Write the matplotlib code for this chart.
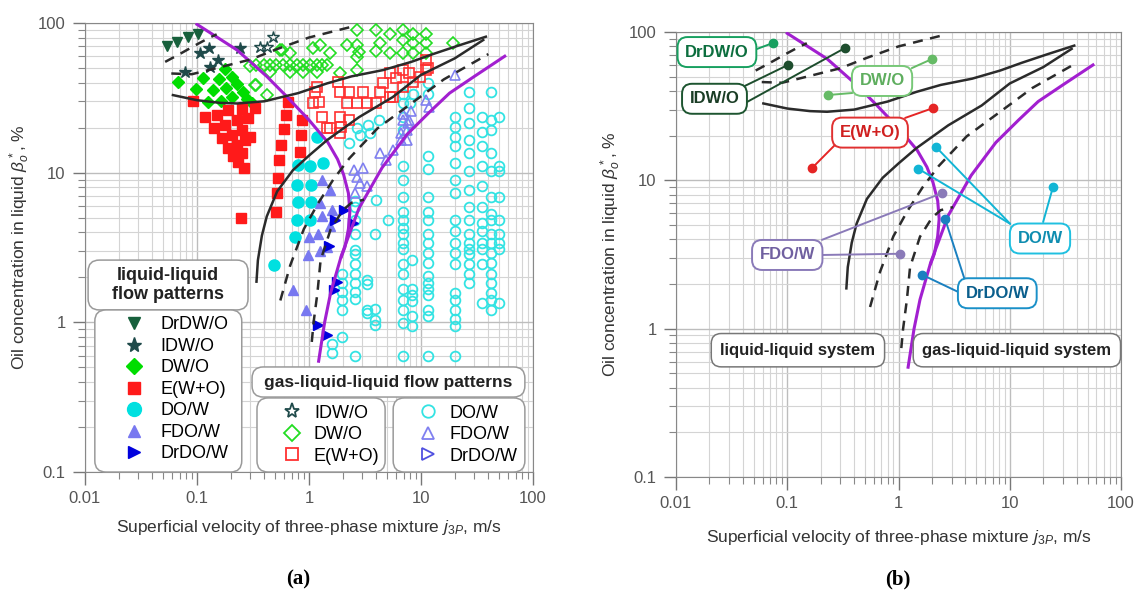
import numpy as np
import matplotlib.pyplot as plt
from matplotlib.patches import FancyBboxPatch
from matplotlib.lines import Line2D
from matplotlib.ticker import LogLocator, NullFormatter

plt.rcParams['font.family'] = ['Liberation Sans', 'DejaVu Sans']
plt.rcParams['mathtext.fontset'] = 'custom'
plt.rcParams['mathtext.rm'] = 'Liberation Sans'
plt.rcParams['mathtext.it'] = 'Liberation Sans:italic'

# ---- boundary curves (same in both panels) ----
purple1_x = [0.1, 0.228, 0.42, 0.64, 1.0, 1.47, 1.8, 2.04, 2.25, 2.32, 2.25, 2.1, 1.95]
purple1_y = [98, 66, 44, 32, 22.5, 16, 12.3, 9.7, 7.3, 5.5, 4.2, 3.2, 2.75]
purple2_x = [1.22, 1.38, 1.56, 1.95, 2.8, 4.5, 7.5, 12, 18, 30, 56]
purple2_y = [0.55, 1.0, 1.57, 2.8, 5.8, 10.8, 18, 25.5, 34, 44, 60]
black_a_x = [0.061, 0.1, 0.16, 0.228, 0.4, 0.8, 1.45, 2.4, 4.6, 8.2, 12.8, 22, 38]
black_a_y = [33, 30.5, 29.3, 29, 30, 34, 39.5, 44, 48.5, 55, 62, 71, 81]
black_b_x = [0.34, 0.35, 0.38, 0.42, 0.52, 0.72, 1.0, 1.45, 2.8, 5.6, 10, 20, 36]
black_b_y = [1.87, 2.6, 3.8, 5.1, 7.5, 10.4, 13, 16.5, 23.5, 32, 45, 58, 77]
dash1_x = [0.052, 0.07, 0.1, 0.13, 0.15]
dash1_y = [55, 62, 72, 80, 84]
dash2_x = [0.059, 0.09, 0.15, 0.3, 0.52, 1.0, 2.35]
dash2_y = [46, 45.5, 50, 57, 67, 80, 94]
dash3_x = [0.555, 0.68, 0.9, 1.2, 1.65, 2.3, 4.1, 8.2, 16, 40]
dash3_y = [1.4, 2.4, 4.2, 6.2, 9, 12.5, 19.8, 29, 42, 62]
dash4_x = [1.06, 1.1, 1.19, 1.27, 1.56, 2.0, 2.4, 3.1]
dash4_y = [0.74, 1.0, 1.57, 2.6, 4.17, 5.6, 6.3, 6.6]

# ---- liquid-liquid flow pattern points ----
drdwo_x = [0.054, 0.066, 0.083, 0.103]
drdwo_y = [70, 75, 81, 85]
idwo_x = [0.078, 0.106, 0.128, 0.13, 0.155, 0.242]
idwo_y = [47, 63, 68, 51, 57, 68]
dwo_x = [0.068, 0.114, 0.158, 0.178, 0.204, 0.099, 0.14, 0.182, 0.226, 0.126, 0.163,
         0.204, 0.256, 0.281, 0.308]
dwo_y = [40.6, 42.8, 42.1, 49.1, 43.8, 36, 35.6, 36.6, 38.9, 29.8, 30.3, 31.9, 34.8, 30.9, 29.1]
ewo_x = [0.093, 0.118, 0.150, 0.19, 0.25, 0.33, 0.142, 0.178, 0.226, 0.287, 0.166, 0.204,
         0.25, 0.297, 0.19, 0.226, 0.268, 0.21, 0.25, 0.233, 0.263, 0.245,
         0.65, 0.63, 0.6, 0.56, 0.54, 0.53, 0.52, 0.51, 0.87, 0.85, 0.83]
ewo_y = [30.1, 23.7, 24.3, 26.2, 26.5, 27.2, 19.8, 20.8, 22.5, 23.1, 17, 17.9,
         19.3, 17.4, 14.6, 15.3, 16.5, 13, 13.6, 11.7, 10.7, 4.95,
         29.8, 24.3, 19.5, 15.3, 12.2, 9.2, 7.3, 5.5, 22.5, 17.9, 13.8]
dow_x = [1.17, 0.80, 1.02, 1.34, 0.78, 1.05, 0.80, 1.05, 0.78, 1.02, 0.75, 0.49]
dow_y = [17.4, 11.3, 11.0, 11.6, 8.3, 8.3, 6.4, 6.4, 4.8, 4.8, 3.7, 2.4]
fdow_x = [1.30, 1.53, 1.25, 1.59, 1.30, 1.53, 1.21, 1.0, 1.44, 1.25, 0.99, 0.72, 0.95]
fdow_y = [8.9, 7.7, 6.3, 5.6, 5.1, 4.4, 3.9, 3.7, 3.2, 3.0, 2.8, 1.64, 1.21]
drdow_x = [2.05, 1.72, 1.5, 1.77, 1.67, 1.21, 1.44, 2.45]
drdow_y = [5.6, 4.8, 3.25, 1.87, 1.64, 0.96, 0.82, 4.6]

# ---- gas-liquid-liquid flow pattern points ----
idwo_g_x = [0.365, 0.42, 0.48]
idwo_g_y = [69.5, 69.5, 81]
dwo_g_x = [0.34, 0.40, 0.45, 0.51, 0.59, 0.68, 0.78, 0.89, 1.02, 1.17, 1.30, 1.44,
           0.45, 0.68, 0.89, 1.17, 0.34, 0.57, 0.68, 1.09, 1.25, 1.53, 2.17, 1.89,
           2.67, 2.67, 2.67, 2.67, 2.8, 4.0, 4.3, 4.0, 5.3, 5.3, 6.95, 6.95, 6.95,
           8.5, 8.5, 8.5, 11.2, 11.2, 11.2, 19.5, 0.33, 0.42, 0.55, 0.3]
dwo_g_y = [52.4, 52.4, 52.4, 52.4, 52.4, 52.4, 52.4, 52.4, 52.4, 52.4, 52.4, 52.4,
           47.3, 47.3, 47.3, 47.3, 38.5, 66, 63, 68, 71.3, 63, 71.3, 46,
           89.8, 71.3, 59.6, 48.5, 64, 89.8, 73, 65, 85, 63, 89.8, 77, 63,
           85, 73, 63, 85, 73, 63, 73, 38.5, 33, 66, 52]
ewo_g_x = [1.13, 1.22, 1.30, 1.53, 1.83, 1.89, 2.17, 1.89, 2.3, 2.67, 3.05, 3.27, 1.95,
           2.3, 4.3, 4.6, 4.0, 5.3, 6.0, 6.95, 7.9, 8.5, 11.2, 11.6, 5.3, 6.95, 1.17,
           1.09, 1.44, 1.89, 11.2, 9.8, 5.6]
ewo_g_y = [34.8, 29.8, 23.7, 19.8, 40.6, 34.8, 29.1, 23.7, 34.8, 29.1, 34.8, 29.1, 20.3,
           22.5, 34.8, 39.5, 29.1, 46.1, 42.8, 48.5, 46.1, 40.6, 56.6, 49.8, 32.2, 37.5, 37.5,
           29.1, 19.8, 18.3, 48.5, 43.8, 32.2]
dow_g_x = ([1.96] * 6 + [1.6] * 2 + [2.6] * 12 + [3.3] * 4 + [3.9] * 4 + [6.9] * 19 +
           [8.3] * 6 + [11.5] * 18 + [20] * 18 + [27] * 16 + [35] * 12 + [42] * 17 +
           [50] * 9 + [2.3, 2.67, 2.85, 3.4, 3.5, 4.2, 4.0, 5.1, 6.95, 8.5, 8.0])
dow_g_y = ([2.1, 1.82, 1.6, 1.41, 1.21, 0.8] +
           [0.72, 0.62] +
           [6.5, 5.9, 4.8, 3.9, 3.05, 2.85, 2.45, 2.1, 1.82, 1.6, 1.43, 0.6] +
           [1.93, 1.8, 1.21, 1.15] +
           [3.9, 1.23, 1.04, 0.96] +
           [29, 23.7, 19.3, 11.0, 8.9, 6.9, 5.5, 4.8, 4.3, 3.9, 3.4, 3.1, 2.45, 2.1, 1.67,
            1.41, 1.21, 0.99, 0.6] +
           [2.6, 1.67, 1.52, 1.38, 1.1, 0.95] +
           [39.5, 33.5, 13.0, 10.6, 6.9, 5.5, 4.8, 3.9, 3.4, 2.9, 2.5, 2.05, 1.82, 1.67, 1.52,
            1.21, 1.1, 0.6] +
           [23.7, 20.3, 17.2, 15.0, 11.6, 8.9, 7.3, 4.8, 4.1, 3.4, 2.9, 2.45, 1.56, 1.41, 1.21,
            1.06, 0.94, 0.6] +
           [34.8, 27, 21.5, 16.5, 13.5, 10.2, 7.7, 5.9, 4.8, 3.9, 3.4, 3.1, 2.85, 2.45, 2.1, 1.82] +
           [23.7, 18.6, 15, 11, 8.2, 5.9, 4.6, 4.1, 3.4, 3.1, 2.45, 1.35] +
           [34.8, 22.5, 19.3, 13.5, 10.2, 6.9, 5.3, 4.8, 3.9, 3.4, 2.9, 2.5, 2.1, 1.82, 1.56,
            1.41, 1.21] +
           [23.7, 11, 10.2, 6.9, 4.8, 3.9, 3.4, 3.1, 1.35] +
           [15.7, 19.8, 17.9, 20.8, 18.3, 22.5, 6.6, 4.8, 33.5, 33.5, 29])
fdow_g_x = [2.5, 2.67, 3.05, 2.85, 3.27, 2.6, 4.3, 4.9, 5.6, 6.95, 7.5, 6.7, 7.9, 7.5,
            11.2, 11.9, 20, 6.95, 7.7, 6.6, 8.2]
fdow_g_y = [10.4, 9.4, 10.7, 8.5, 8.1, 7.3, 13.5, 12.2, 14.2, 22.5, 19.3, 18.3, 22.5, 16.6,
            30.6, 27.6, 45, 24.5, 21.4, 16.5, 26]

x_ticks = [0.01, 0.1, 1, 10, 100]
x_labels = ['0.01', '0.1', '1', '10', '100']
y_ticks = [0.1, 1, 10, 100]
y_labels = ['0.1', '1', '10', '100']

c_drdwo = '#17603c'
c_idwo = '#1f4a4a'
c_dwo = '#00dd00'
c_ewo = '#ff1a1a'
c_dow = '#00e0e0'
c_fdow = '#7878f0'
c_drdow = '#0000dd'
c_purple = '#a21fd0'
c_black = '#2b2b2b'

fig = plt.figure(figsize=(11.39, 6.01), dpi=100)
ax1 = fig.add_axes([0.0746, 0.2146, 0.3933, 0.7471])
ax2 = fig.add_axes([0.5935, 0.2063, 0.3907, 0.7404])


def setup(ax):
    ax.set_xscale('log')
    ax.set_yscale('log')
    ax.set_xlim(0.01, 100)
    ax.set_ylim(0.1, 100)
    ax.set_xticks(x_ticks)
    ax.set_xticklabels(x_labels)
    ax.set_yticks(y_ticks)
    ax.set_yticklabels(y_labels)
    for axis in (ax.xaxis, ax.yaxis):
        axis.set_minor_locator(LogLocator(base=10, subs=np.arange(2, 10)))
        axis.set_minor_formatter(NullFormatter())
    ax.grid(which='major', color='#bdbdbd', lw=1.0)
    ax.grid(which='minor', color='#d4d4d4', lw=0.8)
    ax.set_axisbelow(True)
    ax.tick_params(which='major', length=9, width=1, color='#777', labelcolor='#555',
                   labelsize=12, pad=5)
    ax.tick_params(which='minor', length=5, width=0.8, color='#888')
    for s in ax.spines.values():
        s.set_color('#888')
    ax.set_xlabel('Superficial velocity of three-phase mixture $j_{3P}$, m/s', fontsize=12.5,
                  color='#333')
    ax.set_ylabel(r'Oil concentration in liquid $\beta_o^*$, %', fontsize=12.5, color='#333')
    ax.plot(purple1_x, purple1_y, color=c_purple, lw=2.2, zorder=4)
    ax.plot(purple2_x, purple2_y, color=c_purple, lw=2.2, zorder=4)
    ax.plot(black_a_x, black_a_y, color=c_black, lw=1.8, zorder=4)
    ax.plot(black_b_x, black_b_y, color=c_black, lw=1.8, zorder=4)
    for dx, dy in [(dash1_x, dash1_y), (dash2_x, dash2_y), (dash3_x, dash3_y), (dash4_x, dash4_y)]:
        ax.plot(dx, dy, color=c_black, lw=1.8, dashes=(4, 3), zorder=4)


setup(ax1)
setup(ax2)
ax1.xaxis.labelpad = 8
ax2.xaxis.labelpad = 12

# ---- (a) markers ----
fk = dict(ls='none', zorder=3)
ax1.plot(dow_g_x, dow_g_y, marker='o', ms=7, mfc='none', mec='#33e3e3', mew=1.3, **fk)
ax1.plot(dwo_g_x, dwo_g_y, marker='D', ms=6, mfc='none', mec='#22dd22', mew=1.2, **fk)
ax1.plot(ewo_g_x, ewo_g_y, marker='s', ms=7, mfc='none', mec='#ff3030', mew=1.2, **fk)
ax1.plot(fdow_g_x, fdow_g_y, marker='^', ms=7, mfc='none', mec='#8080f0', mew=1.2, **fk)
ax1.plot(idwo_g_x, idwo_g_y, marker='*', ms=9, mfc='none', mec=c_idwo, mew=1.0, **fk)
ax1.plot(drdwo_x, drdwo_y, marker='v', ms=7, color=c_drdwo, **fk)
ax1.plot(idwo_x, idwo_y, marker='*', ms=9, color=c_idwo, **fk)
ax1.plot(dwo_x, dwo_y, marker='D', ms=6.5, color=c_dwo, **fk)
ax1.plot(ewo_x, ewo_y, marker='s', ms=7, color=c_ewo, **fk)
ax1.plot(dow_x, dow_y, marker='o', ms=8, color=c_dow, **fk)
ax1.plot(fdow_x, fdow_y, marker='^', ms=6.5, color=c_fdow, **fk)
ax1.plot(drdow_x, drdow_y, marker='>', ms=6.5, color=c_drdow, **fk)

# ---- legend boxes of (a) ----
def frame(ax, x, y, w, h):
    ax.add_patch(FancyBboxPatch((x, y), w, h, boxstyle='round,pad=0,rounding_size=0.025',
                                transform=ax.transAxes, fc='white', ec='#9a9a9a', lw=1.1,
                                zorder=6, clip_on=False))


frame(ax1, 0.007, 0.361, 0.357, 0.111)
ax1.text(0.185, 0.416, 'liquid-liquid\nflow patterns', transform=ax1.transAxes, ha='center',
         va='center', fontsize=13, fontweight='bold', color='#222', linespacing=1.15, zorder=7)
frame(ax1, 0.022, 0.0, 0.328, 0.361)
frame(ax1, 0.373, 0.167, 0.609, 0.067)
ax1.text(0.677, 0.2, 'gas-liquid-liquid flow patterns', transform=ax1.transAxes, ha='center',
         va='center', fontsize=12.5, fontweight='bold', color='#222', zorder=7)
frame(ax1, 0.384, 0.0, 0.286, 0.165)
frame(ax1, 0.688, 0.0, 0.294, 0.165)


def h(marker, color, ms=9, open_=False):
    if open_:
        return Line2D([], [], ls='none', marker=marker, ms=ms, mfc='none', mec=color, mew=1.3)
    return Line2D([], [], ls='none', marker=marker, ms=ms, color=color)


leg_kw = dict(frameon=False, fontsize=13, handlelength=1.0, labelspacing=0.25,
              borderaxespad=0, borderpad=0, loc='center')
ll_handles = [h('v', c_drdwo), h('*', c_idwo, 11), h('D', c_dwo, 8), h('s', c_ewo),
              h('o', c_dow, 10), h('^', c_fdow), h('>', c_drdow)]
ll_labels = ['DrDW/O', 'IDW/O', 'DW/O', 'E(W+O)', 'DO/W', 'FDO/W', 'DrDO/W']
leg1 = ax1.legend(ll_handles, ll_labels, bbox_to_anchor=(0.205, 0.184), handletextpad=1.0,
                  **leg_kw)
leg1.set_zorder(8)
ax1.add_artist(leg1)
g1_handles = [h('*', c_idwo, 11, True), h('D', '#22dd22', 8, True), h('s', '#ff3030', 9, True)]
leg2 = ax1.legend(g1_handles, ['IDW/O', 'DW/O', 'E(W+O)'], bbox_to_anchor=(0.55, 0.083),
                  handletextpad=0.7, **leg_kw)
leg2.set_zorder(8)
ax1.add_artist(leg2)
g2_handles = [h('o', '#33e3e3', 9, True), h('^', '#8080f0', 9, True), h('>', '#5050e0', 9, True)]
leg3 = ax1.legend(g2_handles, ['DO/W', 'FDO/W', 'DrDO/W'], bbox_to_anchor=(0.855, 0.083),
                  handletextpad=0.7, **leg_kw)
leg3.set_zorder(8)

# ---- (b) call-outs ----
# text, box centre (axes fraction), text colour, edge colour, dot colour,
# [(line start in axes fraction), (dot in data)]
callouts = [
    ('DrDW/O', (0.092, 0.955), '#0c6e3e', '#18a060', '#18a060',
     [((0.182, 0.962), (0.0745, 84.4))]),
    ('IDW/O', (0.0865, 0.85), '#1a3d25', '#1d5530', '#1d4d2d',
     [((0.155, 0.879), (0.1016, 60)), ((0.16, 0.843), (0.33, 78))]),
    ('DW/O', (0.463, 0.89), '#5fae5f', '#78c878', '#66bb66',
     [((0.53, 0.919), (2.0, 65.8)), ((0.396, 0.863), (0.232, 37.6))]),
    ('E(W+O)', (0.436, 0.774), '#d02020', '#e03030', '#e52525',
     [((0.515, 0.807), (2.04, 30.7)), ((0.357, 0.746), (0.167, 12.1))]),
    ('DO/W', (0.818, 0.536), '#0f8db0', '#20c0e0', '#12b5d5',
     [((0.751, 0.569), (2.17, 16.8)), ((0.751, 0.569), (1.5, 12.0)),
      ((0.825, 0.573), (24.5, 9.06))]),
    ('FDO/W', (0.25, 0.499), '#7060a0', '#8a7ab8', '#8a7ab8',
     [((0.328, 0.533), (2.46, 8.2)), ((0.33, 0.499), (1.03, 3.2))]),
    ('DrDO/W', (0.722, 0.413), '#0a5e8c', '#1a90c8', '#1a80c0',
     [((0.649, 0.443), (2.62, 5.5)), ((0.634, 0.416), (1.63, 2.31))]),
]
for text, (bx, by), tc, ec, dc, links in callouts:
    ax2.text(bx, by, text, transform=ax2.transAxes, ha='center', va='center', fontsize=12,
             fontweight='bold', color=tc, zorder=8,
             bbox=dict(boxstyle='round,pad=0.45,rounding_size=0.6', fc='white', ec=ec, lw=1.4))
    for (sx, sy), (px, py) in links:
        ax2.annotate('', xy=(px, py), xycoords='data', xytext=(sx, sy),
                     textcoords='axes fraction', zorder=7,
                     arrowprops=dict(arrowstyle='-', color=dc, lw=1.4, shrinkA=0, shrinkB=0))
        ax2.plot(px, py, 'o', color=dc, ms=6, zorder=9)

for text, bx in [('liquid-liquid system', 0.274), ('gas-liquid-liquid system', 0.766)]:
    ax2.text(bx, 0.285, text, transform=ax2.transAxes, ha='center', va='center', fontsize=12,
             fontweight='bold', color='#222', zorder=8,
             bbox=dict(boxstyle='round,pad=0.55,rounding_size=0.6', fc='white', ec='#777', lw=1.1))

fig.text(0.262, 0.035, '(a)', ha='center', va='center', fontsize=15, fontweight='bold',
         family=['Liberation Serif', 'DejaVu Serif'])
fig.text(0.788, 0.035, '(b)', ha='center', va='center', fontsize=15, fontweight='bold',
         family=['Liberation Serif', 'DejaVu Serif'])

fig.savefig('out.png', dpi=100, facecolor='white')
